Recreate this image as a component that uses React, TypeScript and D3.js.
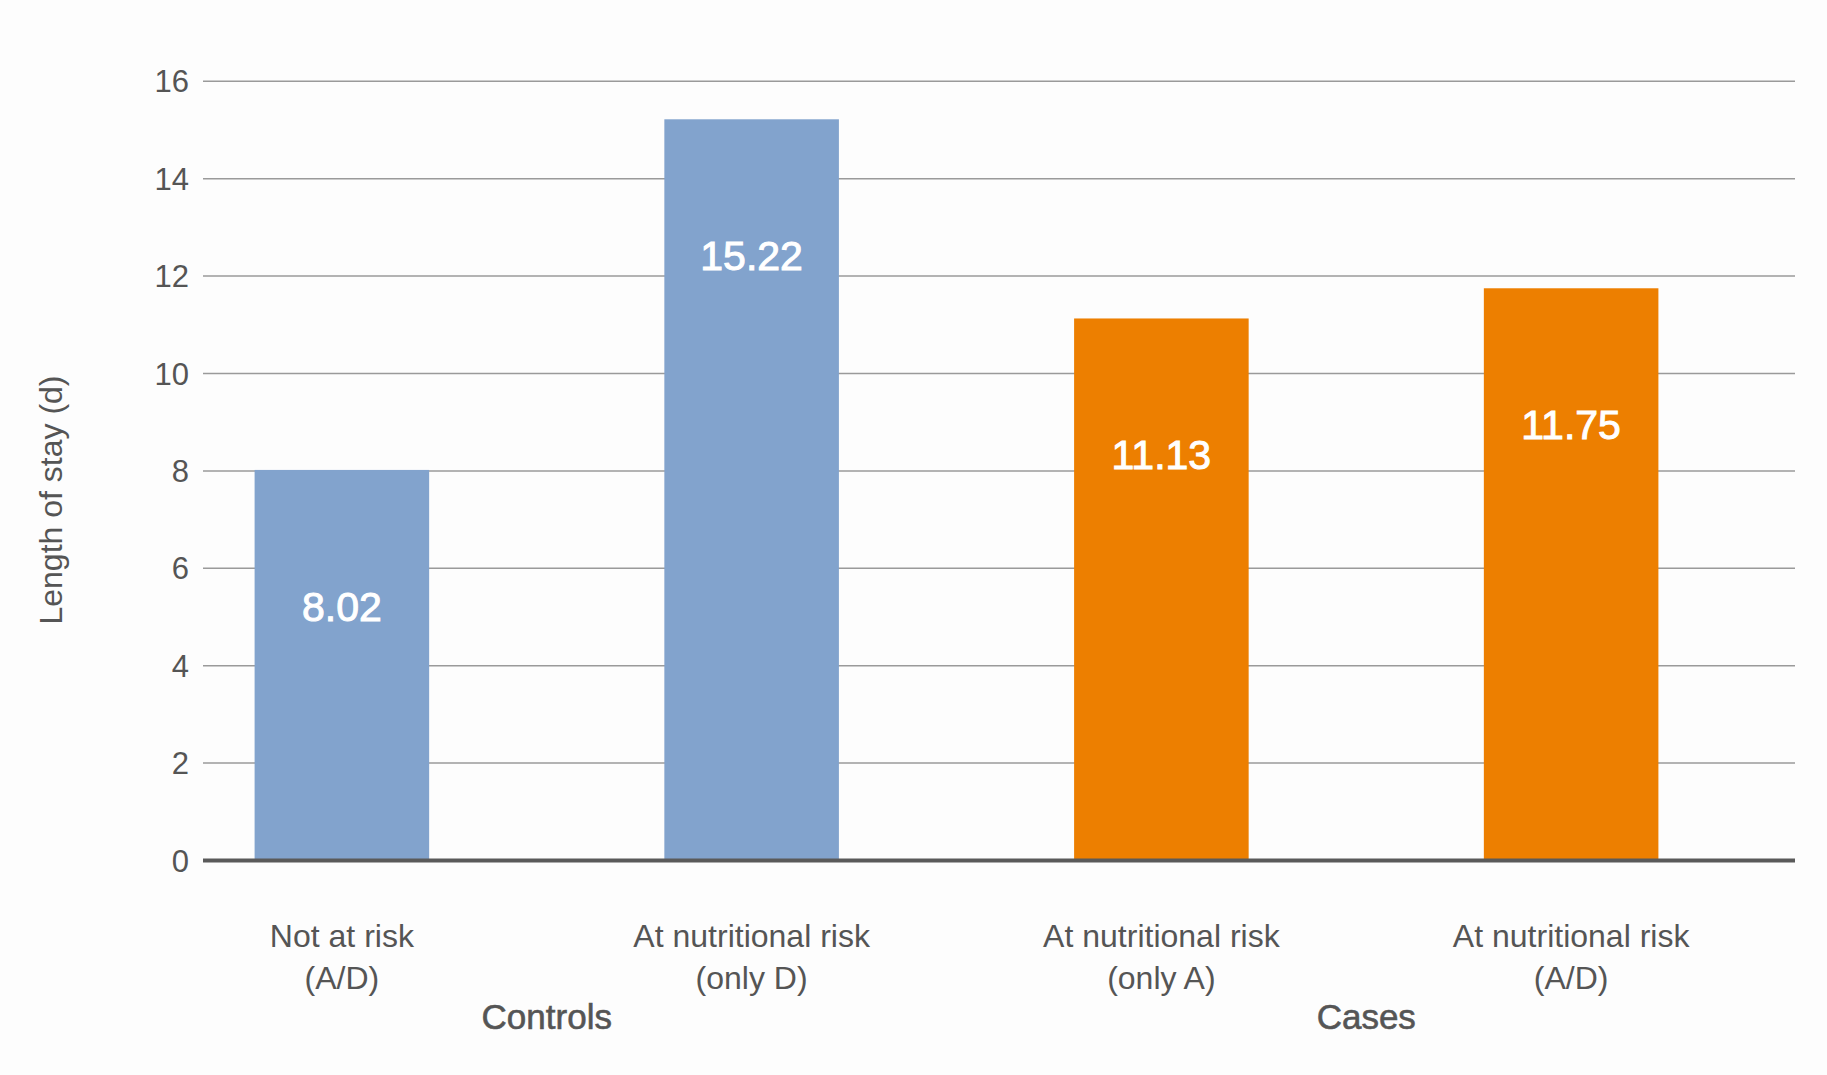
import React, { useEffect, useRef } from 'react';
import * as d3 from 'd3';

// categories (two lines each) and their group
const categories = ['notRisk', 'riskOnlyD', 'riskOnlyA', 'riskAD'];
const labelLine1 = ['Not at risk', 'At nutritional risk', 'At nutritional risk', 'At nutritional risk'];
const labelLine2 = ['(A/D)', '(only D)', '(only A)', '(A/D)'];
const groups = ['Controls', 'Controls', 'Cases', 'Cases'];
const groupNames = ['Controls', 'Cases'];

// length of stay in days
const values = [8.02, 15.22, 11.13, 11.75];

const yTicks = [0, 2, 4, 6, 8, 10, 12, 14, 16];

const colors: Record<string, string> = { Controls: '#82a3cd', Cases: '#ed7f00' };

export default function App() {
  const svgRef = useRef<SVGSVGElement>(null);

  useEffect(() => {
    if (!svgRef.current) return;

    const width = 1827;
    const height = 1075;
    const plotLeft = 203;
    const plotRight = 1795;
    const font = '"Liberation Sans", Arial, Helvetica, sans-serif';
    const textColor = '#555555';

    const svg = d3.select(svgRef.current);
    svg.selectAll('*').remove();
    svg.attr('width', width).attr('height', height);

    svg.append('rect')
      .attr('width', width)
      .attr('height', height)
      .attr('fill', '#fdfdfd');

    const x = d3.scaleBand<string>()
      .domain(categories)
      .range([137, 1776])
      .paddingInner(0.574)
      .paddingOuter(0.287);

    const y = d3.scaleLinear()
      .domain([0, 16])
      .range([860.5, 81.3]);

    // gridlines
    svg.append('g')
      .selectAll('line')
      .data(yTicks.filter(d => d > 0))
      .enter().append('line')
      .attr('x1', plotLeft)
      .attr('x2', plotRight)
      .attr('y1', d => y(d))
      .attr('y2', d => y(d))
      .attr('stroke', '#9a9a9a')
      .attr('stroke-width', 1.5);

    // tick labels
    svg.append('g')
      .selectAll('text')
      .data(yTicks)
      .enter().append('text')
      .attr('x', 189)
      .attr('y', d => y(d))
      .attr('dy', '0.36em')
      .attr('text-anchor', 'end')
      .attr('fill', textColor)
      .style('font-family', font)
      .style('font-size', '31px')
      .text(d => d);

    // bars
    svg.append('g')
      .selectAll('rect')
      .data(values)
      .enter().append('rect')
      .attr('x', (d, i) => x(categories[i])!)
      .attr('y', d => y(d))
      .attr('width', x.bandwidth())
      .attr('height', d => y(0) - y(d))
      .attr('fill', (d, i) => colors[groups[i]]);

    // value labels inside bars (medium weight look)
    svg.append('g')
      .selectAll('text')
      .data(values)
      .enter().append('text')
      .attr('x', (d, i) => x(categories[i])! + x.bandwidth() / 2)
      .attr('y', d => y(d) + 151)
      .attr('text-anchor', 'middle')
      .attr('fill', '#ffffff')
      .attr('stroke', '#ffffff')
      .attr('stroke-width', 1)
      .style('font-family', font)
      .style('font-size', '41px')
      .text(d => d.toFixed(2));

    // baseline
    svg.append('line')
      .attr('x1', plotLeft)
      .attr('x2', plotRight)
      .attr('y1', y(0))
      .attr('y2', y(0))
      .attr('stroke', '#5a5a5a')
      .attr('stroke-width', 4);

    // category labels
    const cat = svg.append('g')
      .selectAll('text')
      .data(categories)
      .enter().append('text')
      .attr('text-anchor', 'middle')
      .attr('fill', textColor)
      .style('font-family', font)
      .style('font-size', '32px');
    cat.append('tspan')
      .attr('x', d => x(d)! + x.bandwidth() / 2)
      .attr('y', 947)
      .text((d, i) => labelLine1[i]);
    cat.append('tspan')
      .attr('x', d => x(d)! + x.bandwidth() / 2)
      .attr('y', 989)
      .text((d, i) => labelLine2[i]);

    // group labels centred under their bars
    svg.append('g')
      .selectAll('text')
      .data(groupNames)
      .enter().append('text')
      .attr('x', g => {
        const xs = categories.filter((c, i) => groups[i] === g).map(c => x(c)! + x.bandwidth() / 2);
        return d3.mean(xs)!;
      })
      .attr('y', 1029)
      .attr('text-anchor', 'middle')
      .attr('fill', textColor)
      .attr('stroke', textColor)
      .attr('stroke-width', 0.6)
      .style('font-family', font)
      .style('font-size', '35px')
      .text(g => g);

    // y axis title
    svg.append('text')
      .attr('transform', 'translate(50,500) rotate(-90)')
      .attr('dy', '0.36em')
      .attr('text-anchor', 'middle')
      .attr('fill', textColor)
      .style('font-family', font)
      .style('font-size', '32px')
      .text('Length of stay (d)');
  }, []);

  return (
    <svg ref={svgRef} style={{ position: 'absolute', left: 0, top: 0, display: 'block' }}></svg>
  );
}
